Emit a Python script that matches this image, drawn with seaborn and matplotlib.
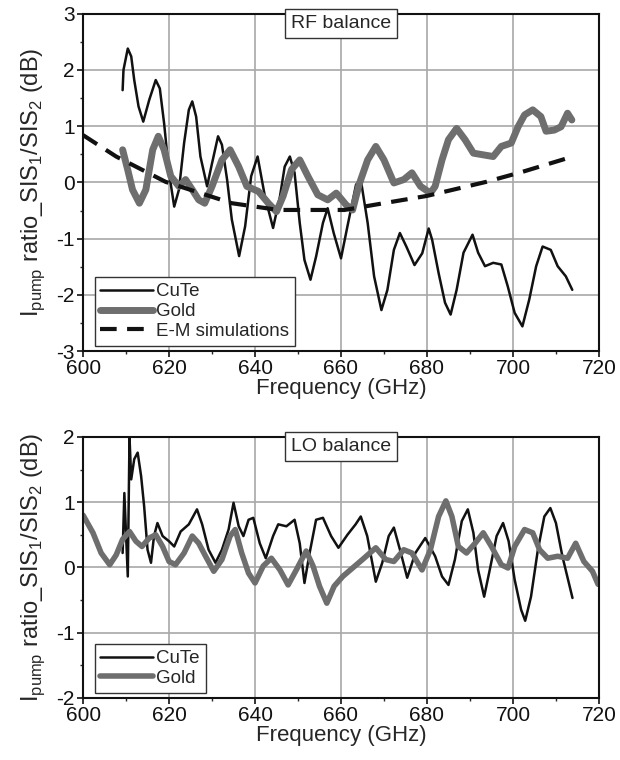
import matplotlib
matplotlib.use("Agg")
import matplotlib.pyplot as plt
import numpy as np
import pandas as pd
import seaborn as sns

# RF balance (top panel)
rf_cute_f = [609.2, 609.4, 610.4, 611.2, 611.9, 612.9, 614.0, 615.4, 616.9, 617.85, 618.85, 620.0,
             621.2, 622.3, 623.5, 624.6, 625.4, 626.3, 627.3, 628.85, 630.0, 631.4, 632.3, 633.5,
             634.6, 636.3, 637.7, 639.1, 640.6, 642.3, 644.2, 645.8, 646.9, 648.1, 649.2, 650.4,
             651.5, 652.9, 654.2, 655.8, 656.9, 658.3, 660.0, 661.5, 663.5, 664.6, 666.2, 667.7,
             669.4, 670.8, 672.3, 673.7, 675.2, 677.1, 678.9, 680.4, 681.2, 682.7, 684.2, 685.5,
             686.9, 688.5, 690.6, 691.9, 693.5, 695.4, 697.3, 698.8, 700.4, 702.2, 703.8, 705.4,
             706.9, 708.8, 710.4, 712.3, 713.8]
rf_cute_v = [1.64, 2.00, 2.38, 2.24, 1.82, 1.35, 1.08, 1.47, 1.82, 1.67, 1.05, 0.17,
             -0.43, -0.13, 0.70, 1.29, 1.44, 1.17, 0.46, -0.07, 0.34, 0.82, 0.67, 0.05,
             -0.66, -1.31, -0.78, 0.11, 0.46, -0.25, -0.81, -0.25, 0.28, 0.46, 0.17, -0.72,
             -1.38, -1.73, -1.32, -0.72, -0.46, -0.90, -1.35, -0.78, -0.04, 0.05, -0.72, -1.67,
             -2.27, -1.91, -1.20, -0.90, -1.14, -1.47, -1.26, -0.82, -1.02, -1.61, -2.14, -2.35,
             -1.91, -1.25, -0.93, -1.25, -1.49, -1.43, -1.46, -1.85, -2.32, -2.56, -2.08, -1.49,
             -1.14, -1.20, -1.49, -1.67, -1.91]

rf_gold_f = [609.2, 610.4, 611.5, 613.1, 614.6, 616.2, 617.5, 618.85, 620.4, 622.3, 623.85, 625.4,
             626.9, 628.3, 630.0, 632.3, 634.2, 636.2, 638.1, 640.8, 643.1, 645.0, 646.5, 648.5,
             650.4, 652.3, 654.6, 656.9, 658.9, 661.2, 662.7, 664.2, 666.2, 668.1, 670.0, 672.3,
             674.6, 676.5, 678.5, 680.8, 681.9, 683.5, 685.0, 686.9, 688.85, 690.8, 693.1, 695.4,
             697.3, 699.6, 701.2, 702.7, 704.6, 706.5, 707.7, 709.6, 711.2, 712.7, 713.7]
rf_gold_v = [0.58, 0.22, -0.13, -0.37, -0.13, 0.58, 0.82, 0.58, 0.11, -0.07, 0.05, -0.13,
             -0.31, -0.37, -0.07, 0.40, 0.58, 0.28, -0.07, -0.16, -0.37, -0.52, -0.25, 0.23,
             0.40, 0.11, -0.22, -0.31, -0.19, -0.40, -0.49, -0.04, 0.40, 0.64, 0.40, -0.01,
             0.05, 0.17, -0.07, -0.19, -0.07, 0.40, 0.76, 0.96, 0.76, 0.52, 0.49, 0.46,
             0.64, 0.70, 0.99, 1.20, 1.29, 1.17, 0.91, 0.93, 0.99, 1.23, 1.11]

sim_f = [600.0, 607.7, 619.2, 634.6, 645.4, 660.8, 670.7, 680.0, 693.8, 702.3, 713.5]
sim_v = [0.84, 0.46, 0.01, -0.37, -0.49, -0.49, -0.36, -0.24, 0.01, 0.19, 0.45]

# LO balance (bottom panel)
lo_cute_f = [609.2, 609.6, 610.4, 610.8, 611.2, 611.9, 612.7, 613.5, 614.2, 615.0, 615.8, 616.5,
             617.3, 618.5, 620.0, 621.2, 622.7, 624.6, 626.5, 627.7, 629.2, 630.8, 632.3, 633.85,
             635.0, 636.2, 637.3, 638.5, 639.6, 641.1, 642.5, 644.2, 645.4, 647.3, 649.2, 650.4,
             651.5, 652.7, 654.2, 655.8, 657.7, 659.4, 661.5, 663.4, 664.6, 666.1, 668.1, 669.6,
             671.1, 672.3, 673.8, 675.4, 677.3, 679.6, 681.9, 683.5, 685.0, 686.5, 688.1, 689.5,
             690.8, 691.9, 693.3, 694.6, 696.2, 697.7, 699.0, 700.4, 701.9, 702.85, 704.2, 705.8,
             707.3, 708.7, 710.0, 711.5, 713.85]
lo_cute_v = [0.22, 1.14, -0.14, 2.00, 1.35, 1.66, 1.76, 1.40, 0.94, 0.27, 0.07, 0.48,
             0.68, 0.48, 0.40, 0.32, 0.55, 0.66, 0.89, 0.66, 0.27, 0.07, 0.27, 0.58,
             0.99, 0.63, 0.48, 0.73, 0.76, 0.37, 0.14, 0.48, 0.66, 0.63, 0.73, 0.37,
             -0.24, 0.22, 0.73, 0.76, 0.48, 0.30, 0.50, 0.66, 0.78, 0.48, -0.22, 0.07,
             0.48, 0.61, 0.25, -0.16, 0.22, 0.45, 0.17, -0.14, -0.27, 0.12, 0.71, 0.89,
             0.53, -0.04, -0.45, -0.04, 0.48, 0.68, 0.40, -0.19, -0.65, -0.82, -0.45, 0.27,
             0.78, 0.91, 0.68, 0.17, -0.47]

lo_gold_f = [600.0, 602.3, 604.2, 606.2, 607.7, 609.2, 610.8, 612.3, 613.7, 615.4, 616.9, 618.5,
             620.0, 621.5, 623.5, 625.4, 626.9, 628.5, 630.4, 632.3, 634.2, 635.4, 636.9, 638.5,
             640.0, 641.9, 643.8, 645.8, 647.7, 649.6, 651.9, 653.5, 655.0, 656.7, 658.4, 660.4,
             662.7, 665.0, 668.1, 670.4, 672.3, 674.6, 676.5, 678.85, 680.8, 682.7, 684.4, 685.8,
             687.3, 689.2, 691.2, 693.1, 695.0, 697.3, 698.85, 700.4, 702.7, 704.6, 706.2, 708.1,
             710.4, 712.7, 714.6, 716.5, 718.5, 719.8]
lo_gold_v = [0.80, 0.53, 0.22, 0.04, 0.19, 0.43, 0.55, 0.40, 0.32, 0.45, 0.50, 0.32,
             0.09, 0.04, 0.22, 0.48, 0.37, 0.17, -0.06, 0.12, 0.48, 0.58, 0.22, -0.09,
             -0.24, 0.02, 0.14, -0.04, -0.27, -0.04, 0.25, 0.02, -0.29, -0.55, -0.29, -0.14,
             -0.01, 0.12, 0.30, 0.12, 0.09, 0.27, 0.22, -0.04, 0.27, 0.78, 1.02, 0.78,
             0.32, 0.22, 0.37, 0.53, 0.32, 0.04, -0.01, 0.32, 0.58, 0.53, 0.27, 0.14,
             0.17, 0.14, 0.37, 0.09, -0.06, -0.26]

x_ticks = [600, 620, 640, 660, 680, 700, 720]
ylabel = r"I$_{\mathregular{pump}}$ ratio_SIS$_{\mathregular{1}}$/SIS$_{\mathregular{2}}$ (dB)"

sns.set_style("ticks")
plt.rcParams["font.family"] = ["Liberation Sans", "DejaVu Sans"]
plt.rcParams["axes.unicode_minus"] = False
plt.rcParams["mathtext.fontset"] = "custom"
plt.rcParams["mathtext.rm"] = "Liberation Sans"

fig = plt.figure(figsize=(6.2, 7.6), dpi=100)
ax1 = fig.add_axes([0.134, 0.538, 0.832, 0.444])
ax2 = fig.add_axes([0.134, 0.082, 0.832, 0.343])

black = "#111111"
gray = "#6e6e6e"

def lp(ax, f, v, **kw):
    df = pd.DataFrame({"f": f, "v": v})
    sns.lineplot(data=df, x="f", y="v", ax=ax, sort=False, estimator=None, **kw)

lp(ax1, rf_cute_f, rf_cute_v, color=black, lw=1.8, label="CuTe")
lp(ax1, rf_gold_f, rf_gold_v, color=gray, lw=5, label="Gold")
lp(ax1, sim_f, sim_v, color=black, lw=3, label="E-M simulations")
ax1.lines[-1].set_dashes([4, 2.5])

lp(ax2, lo_cute_f, lo_cute_v, color=black, lw=1.8, label="CuTe")
lp(ax2, lo_gold_f, lo_gold_v, color=gray, lw=4, label="Gold")

for ax, lims, box_text in [(ax1, (-3, 3), "RF balance"), (ax2, (-2, 2), "LO balance")]:
    ax.set_xlim(600, 720)
    ax.set_ylim(*lims)
    ax.set_xticks(x_ticks)
    ax.set_xticks(np.arange(610, 720, 20), minor=True)
    ax.set_yticks(np.arange(lims[0], lims[1] + 1, 1))
    ax.set_yticks(np.arange(lims[0] + 0.5, lims[1], 1), minor=True)
    ax.grid(True, which="major", color="#a8a8a8", lw=1.2)
    ax.tick_params(axis="both", which="major", direction="out", length=4, width=1.2,
                   labelsize=15, colors="#111111", pad=2)
    ax.tick_params(axis="both", which="minor", direction="out", length=2.5, width=1.0)
    for s in ax.spines.values():
        s.set_linewidth(1.5)
        s.set_color("#111111")
    ax.set_xlabel("Frequency (GHz)", fontsize=16, labelpad=0)
    ax.set_ylabel(ylabel, fontsize=17, labelpad=7)
    ax.text(0.5, 0.997, box_text, transform=ax.transAxes, ha="center", va="top", fontsize=14,
            bbox=dict(boxstyle="square,pad=0.3", fc="white", ec="#333333", lw=1))
    leg = ax.legend(loc="lower left", bbox_to_anchor=(0.015, 0.005), fontsize=13.5, frameon=True,
                    fancybox=False, framealpha=1, edgecolor="#333333", handlelength=2.8,
                    handletextpad=0.2, borderpad=0.3, labelspacing=0.15, borderaxespad=0.2)
    leg.get_frame().set_linewidth(1)

fig.savefig("out.png", dpi=100)
